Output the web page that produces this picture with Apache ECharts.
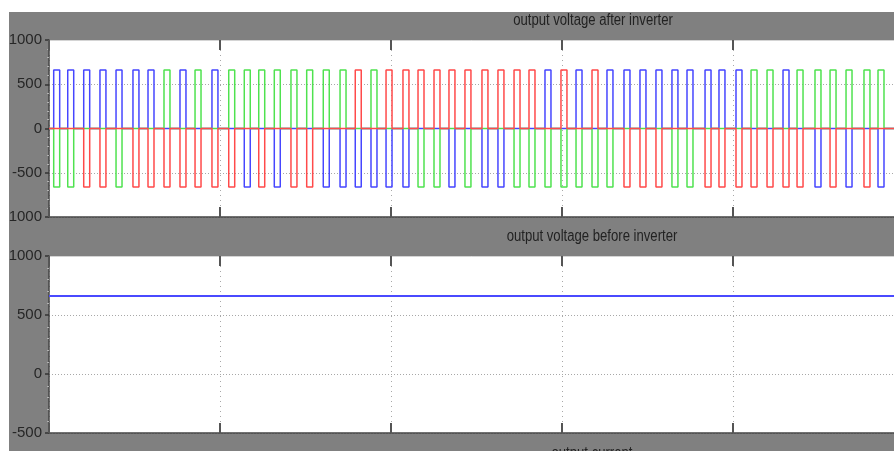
<!DOCTYPE html>
<html>
<head>
<meta charset="utf-8">
<script src="https://cdn.jsdelivr.net/npm/echarts@6/dist/echarts.min.js"></script>
<style>
html,body{margin:0;padding:0;background:#fff;}
#chart{width:894px;height:451px;}
</style>
</head>
<body>
<div id="chart"></div>
<script>
// ---- data ----
// time axis in ms (one grid division = 20 ms)
const timeTicksMs = [0, 20, 40, 60, 80, 100];
// start time of each inverter pulse (ms)
const pulseStartMs = [0.55, 2.19, 4.06, 5.96, 7.84, 9.82, 11.58, 13.45, 15.32, 17.08,
  19.06, 21.02, 22.84, 24.53, 26.35, 28.30, 30.14, 32.08, 34.04, 35.82,
  37.66, 39.42, 41.40, 43.16, 45.03, 46.78, 48.65, 50.64, 52.51, 54.39,
  56.14, 58.01, 59.88, 61.64, 63.51, 65.26, 67.25, 69.12, 70.99, 72.86,
  74.62, 76.73, 78.36, 80.35, 82.11, 83.98, 85.85, 87.49, 89.59, 91.35,
  93.22, 95.32, 96.96];
// phase that is at +Vdc / -Vdc during each pulse (A = blue, B = green, C = red)
const positivePhase = ['A','A','A','A','A','A','A','B','A','B',
  'A','B','B','B','B','B','B','B','B','C',
  'B','C','C','C','C','C','C','C','C','C',
  'C','A','C','A','C','A','A','A','A','A',
  'A','A','A','A','B','B','A','B','B','B',
  'B','B','B'];
const negativePhase = ['B','B','C','C','B','C','C','C','C','C',
  'C','C','A','C','A','C','C','A','A','A',
  'A','A','A','B','B','A','B','A','A','B',
  'B','B','B','B','B','B','C','C','C','B',
  'B','C','C','C','C','C','C','C','A','C',
  'A','C','A'];
const pulseWidthMs = 0.7;
const inverterAmplitude = 660;
// DC link voltage before the inverter
const dcTimeMs = [0, 100];
const dcVoltage = [661, 661];
const topTicks = [-1000, -500, 0, 500, 1000];
const bottomTicks = [-500, 0, 500, 1000];
const titles = ['output voltage after inverter', 'output voltage before inverter', 'output current'];

// ---- build phase waveforms ----
function phaseData(ph) {
  const d = [[timeTicksMs[0], 0]];
  pulseStartMs.forEach((s, i) => {
    let v = 0;
    if (positivePhase[i] === ph) v = inverterAmplitude;
    else if (negativePhase[i] === ph) v = -inverterAmplitude;
    if (v !== 0) {
      const e = s + pulseWidthMs;
      d.push([s, 0], [s, v], [e, v], [e, 0]);
    }
  });
  d.push([timeTicksMs[timeTicksMs.length - 1], 0]);
  return d;
}

const FONT = "'Liberation Sans',Arial,sans-serif";
const GRID_L = 49, GRID_W = 855, GRID_H = 177;
const grids = [{top: 40}, {top: 256}];

function xAxes(gi) {
  const base = {
    gridIndex: gi, type: 'value', min: timeTicksMs[0], max: timeTicksMs[timeTicksMs.length - 1],
    interval: timeTicksMs[1] - timeTicksMs[0], axisLabel: {show: false}
  };
  return [
    Object.assign({}, base, {
      position: 'bottom',
      axisLine: {show: true, onZero: false, lineStyle: {color: '#444', width: 1.5}},
      axisTick: {show: true, inside: true, length: 10, lineStyle: {color: '#555', width: 2}},
      splitLine: {show: true, lineStyle: {color: '#a8a8a8', type: [1, 4], width: 1}}
    }),
    Object.assign({}, base, {
      position: 'top',
      axisLine: {show: true, onZero: false, lineStyle: {color: '#d4d4d4', width: 1}},
      axisTick: {show: true, inside: true, length: 10, lineStyle: {color: '#555', width: 2}},
      splitLine: {show: false}
    })
  ];
}
function yAxis(gi, ticks) {
  return {
    gridIndex: gi, type: 'value', min: ticks[0], max: ticks[ticks.length - 1],
    interval: ticks[1] - ticks[0],
    axisLine: {show: true, onZero: false, lineStyle: {color: '#444', width: 1.5}},
    axisTick: {show: true, inside: false, length: 4, lineStyle: {color: '#333', width: 1.5}},
    minorTick: {show: true, splitNumber: 5, length: 2, lineStyle: {color: '#b0b0b0'}},
    axisLabel: {color: '#262626', fontSize: 15, fontFamily: FONT, margin: 7,
      formatter: v => String(v)},
    splitLine: {show: true, lineStyle: {color: '#a8a8a8', type: [1, 2], width: 1}}
  };
}

function titleText(text, x, y) {
  return {type: 'text', z: 5, x: x, y: y, scaleX: 0.82, scaleY: 1,
    style: {text: text, x: 0, y: 0, align: 'center', verticalAlign: 'middle',
      font: '16px ' + FONT, fill: '#222'}};
}

const colors = {A: '#4646ff', B: '#4fe24f', C: '#ff4a4a'};
const chart = echarts.init(document.getElementById('chart'), null, {renderer: 'canvas'});
chart.setOption({
  animation: false,
  backgroundColor: '#ffffff',
  grid: grids.map(g => ({left: GRID_L, top: g.top, width: GRID_W, height: GRID_H,
    show: true, backgroundColor: '#ffffff', borderWidth: 0,
    containLabel: false, outerBoundsMode: 'none'})),
  xAxis: xAxes(0).concat(xAxes(1)),
  yAxis: [yAxis(0, topTicks), yAxis(1, bottomTicks)],
  series: ['A', 'B', 'C'].map(ph => ({
    type: 'line', xAxisIndex: 0, yAxisIndex: 0, data: phaseData(ph),
    showSymbol: false, lineStyle: {color: colors[ph], width: 1.5}, z: 3
  })).concat([{
    type: 'line', xAxisIndex: 2, yAxisIndex: 1,
    data: dcTimeMs.map((t, i) => [t, dcVoltage[i]]),
    showSymbol: false, lineStyle: {color: '#4a4aff', width: 2}
  }]),
  graphic: [
    {type: 'rect', z: -10, shape: {x: 9, y: 12, width: 900, height: 450}, style: {fill: '#808080'}},
    titleText(titles[0], 593, 21),
    titleText(titles[1], 592, 237),
    titleText(titles[2], 592, 454),
    {type: 'rect', z: 100, shape: {x: 0, y: 0, width: 894, height: 12}, style: {fill: '#ffffff'}},
    {type: 'rect', z: 100, shape: {x: 0, y: 0, width: 9, height: 451}, style: {fill: '#ffffff'}}
  ]
});
</script>
</body>
</html>
